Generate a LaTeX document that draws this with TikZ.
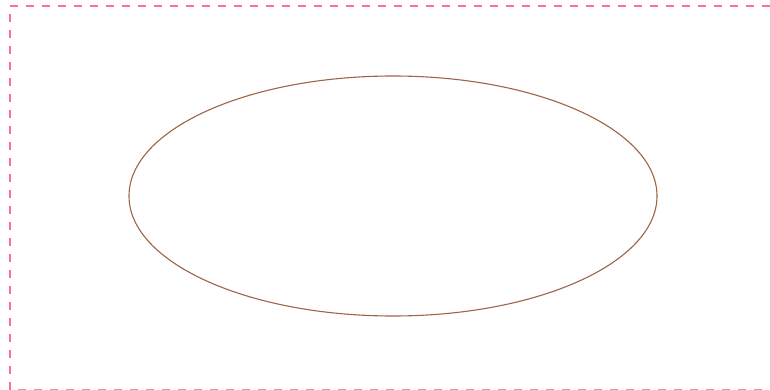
\documentclass[tikz,border=0pt]{standalone}
\usepackage{tikz}
\usetikzlibrary{positioning,shapes.geometric}
\usepackage{xcolor}
\definecolor{rose}   {HTML}{FF6F95}
\definecolor{blush}  {HTML}{E98CA6}
\definecolor{umber}  {HTML}{9C6444}

\begin{document}
\begin{tikzpicture}[x=1pt, y=-1pt,
    guide/.style={draw=rose, line width=1.3pt, dash pattern=on 8pt off 8pt},
    oval/.style={draw=umber, line width=1.1pt, ellipse, inner sep=0pt,
      minimum width=528pt, minimum height=240pt}]
        \useasboundingbox (0,0) rectangle (770,390);
        % frame guides
        \coordinate (tl) at (10,6);
        \coordinate (tr) at (770,6);
        \coordinate (bl) at (10,390);
        \coordinate (bs) at (18,389.3);
        \coordinate (br) at (770,389.3);
        \draw[guide] (tl) -- (tr);
        \draw[guide, dash phase=8pt] (tl) -- (bl);
        \draw[guide, draw=blush] (bs) -- (br);
        % the ellipse
        \node[oval] (shape) at (393,196) {};
      \end{tikzpicture}
\end{document}
